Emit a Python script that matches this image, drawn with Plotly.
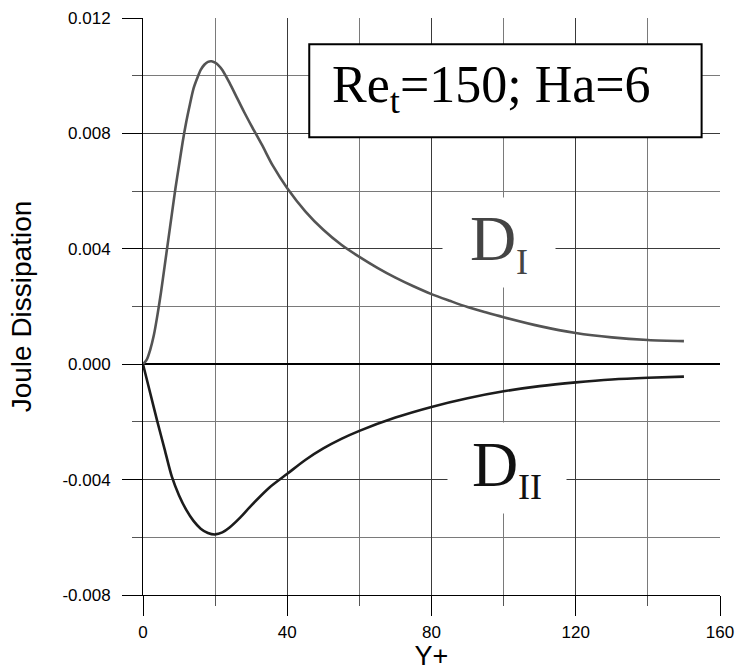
import plotly.graph_objects as go

# ---- data ----
yplus_DI = [0, 1, 2, 3, 4, 5, 6, 7, 8, 9, 10, 11, 12, 13, 14, 15, 16, 17, 18, 19, 20, 21, 22, 24, 26, 28,
            30, 33, 36, 40, 45, 50, 55, 60, 65, 70, 75, 80, 85, 90, 95, 100, 110, 120, 130, 140, 150]
D_I = [0, 0.00015, 0.0005, 0.001, 0.0017, 0.0025, 0.0034, 0.0043, 0.0052, 0.0061, 0.0069, 0.0077,
       0.0084, 0.0090, 0.00955, 0.0099, 0.0102, 0.01038, 0.01048, 0.0105, 0.01045, 0.01035, 0.0102,
       0.00975, 0.00925, 0.00875, 0.00828, 0.0076, 0.00688, 0.0061, 0.0053, 0.00466, 0.00414, 0.00372,
       0.00334, 0.00300, 0.00270, 0.00243, 0.0022, 0.00198, 0.0018, 0.00163, 0.00132, 0.00108, 0.00093,
       0.00084, 0.0008]

yplus_DII = [0, 2, 4, 6, 8, 10, 12, 14, 16, 18, 20, 22, 24, 27, 30, 35, 40, 45, 50, 55, 60, 70, 80, 90,
             100, 110, 120, 130, 140, 150]
D_II = [0, -0.001, -0.002, -0.00295, -0.0039, -0.00455, -0.00505, -0.00543, -0.0057, -0.00585, -0.0059,
        -0.00583, -0.00566, -0.00531, -0.0049, -0.00428, -0.0038, -0.00332, -0.00292, -0.00259, -0.00231,
        -0.00185, -0.00148, -0.00118, -0.00094, -0.00076, -0.00063, -0.00053, -0.00047, -0.00043]

x_tickvals = [0, 40, 80, 120, 160]
x_ticktext = ["0", "40", "80", "120", "160"]
y_tickvals = [-0.008, -0.004, 0.0, 0.004, 0.008, 0.012]
y_ticktext = ["-0.008", "-0.004", "0.000", "0.004", "0.008", "0.012"]

box_text = "Re<sub>t</sub>=150; Ha=6"
label_I = "D<sub><span style='font-size:36px;color:#444444'>I</span></sub>"
label_II = "D<sub><span style='font-size:36px;color:#111111'>II</span></sub>"

SANS = "Arial, Liberation Sans, sans-serif"
SERIF = "Times New Roman, Liberation Serif, serif"

fig = go.Figure()
fig.add_trace(go.Scatter(x=yplus_DI, y=D_I, mode="lines",
                         line=dict(color="#545454", width=2.6, shape="spline", smoothing=0.8),
                         showlegend=False))
fig.add_trace(go.Scatter(x=yplus_DII, y=D_II, mode="lines",
                         line=dict(color="#1c1c1c", width=2.6, shape="spline", smoothing=0.8),
                         showlegend=False))

fig.update_layout(
    width=736, height=671,
    margin=dict(l=143, r=16, t=18, b=76, autoexpand=False),
    plot_bgcolor="white", paper_bgcolor="white",
    showlegend=False,
)

fig.update_xaxes(
    range=[0, 160], tickvals=x_tickvals, ticktext=x_ticktext, automargin=False,
    ticks="outside", ticklen=20, tickwidth=1, tickcolor="black",
    showline=True, linecolor="black", linewidth=1, mirror=False,
    showgrid=True, gridcolor="#3a3a3a", gridwidth=1, zeroline=False,
    minor=dict(dtick=20, tick0=0, ticks="outside", ticklen=10, tickcolor="#555555",
               showgrid=True, gridcolor="#7a7a7a", gridwidth=1),
    tickfont=dict(family=SANS, size=17, color="black"),
    ticklabelstandoff=2,
    title=dict(text="Y+", font=dict(family=SANS, size=27, color="black"), standoff=5),
)
fig.update_yaxes(
    range=[-0.008, 0.012], tickvals=y_tickvals, ticktext=y_ticktext, automargin=False,
    ticks="outside", ticklen=20, tickwidth=1, tickcolor="black",
    showline=True, linecolor="black", linewidth=1, mirror=False,
    showgrid=True, gridcolor="#3a3a3a", gridwidth=1,
    zeroline=True, zerolinecolor="black", zerolinewidth=2,
    minor=dict(dtick=0.002, tick0=0, ticks="outside", ticklen=10, tickcolor="#555555",
               showgrid=True, gridcolor="#7a7a7a", gridwidth=1),
    tickfont=dict(family=SANS, size=17, color="black"),
    ticklabelstandoff=8,
    title=dict(text="Joule Dissipation", font=dict(family=SANS, size=28, color="black"), standoff=22),
)

# boxed parameter label
fig.add_shape(type="rect", xref="x", yref="y", x0=46.1, x1=154.9, y0=0.00787, y1=0.01109,
              line=dict(color="black", width=2), fillcolor="white", layer="above")
fig.add_annotation(x=96.75, y=0.00955, xref="x", yref="y", text=box_text, showarrow=False,
                   font=dict(family=SERIF, size=52, color="black"), xanchor="center", yanchor="middle")

# curve labels with white background
fig.add_annotation(x=98.8, y=0.00422, xref="x", yref="y", text=label_I, showarrow=False,
                   font=dict(family=SERIF, size=64, color="#444444"), bgcolor="white",
                   width=112, height=89, borderpad=0, xanchor="center", yanchor="middle")
fig.add_annotation(x=100.8, y=-0.00359, xref="x", yref="y", text=label_II, showarrow=False,
                   font=dict(family=SERIF, size=64, color="#111111"), bgcolor="white",
                   width=118, height=90, borderpad=0, xanchor="center", yanchor="middle")

fig.write_html("out.html")
